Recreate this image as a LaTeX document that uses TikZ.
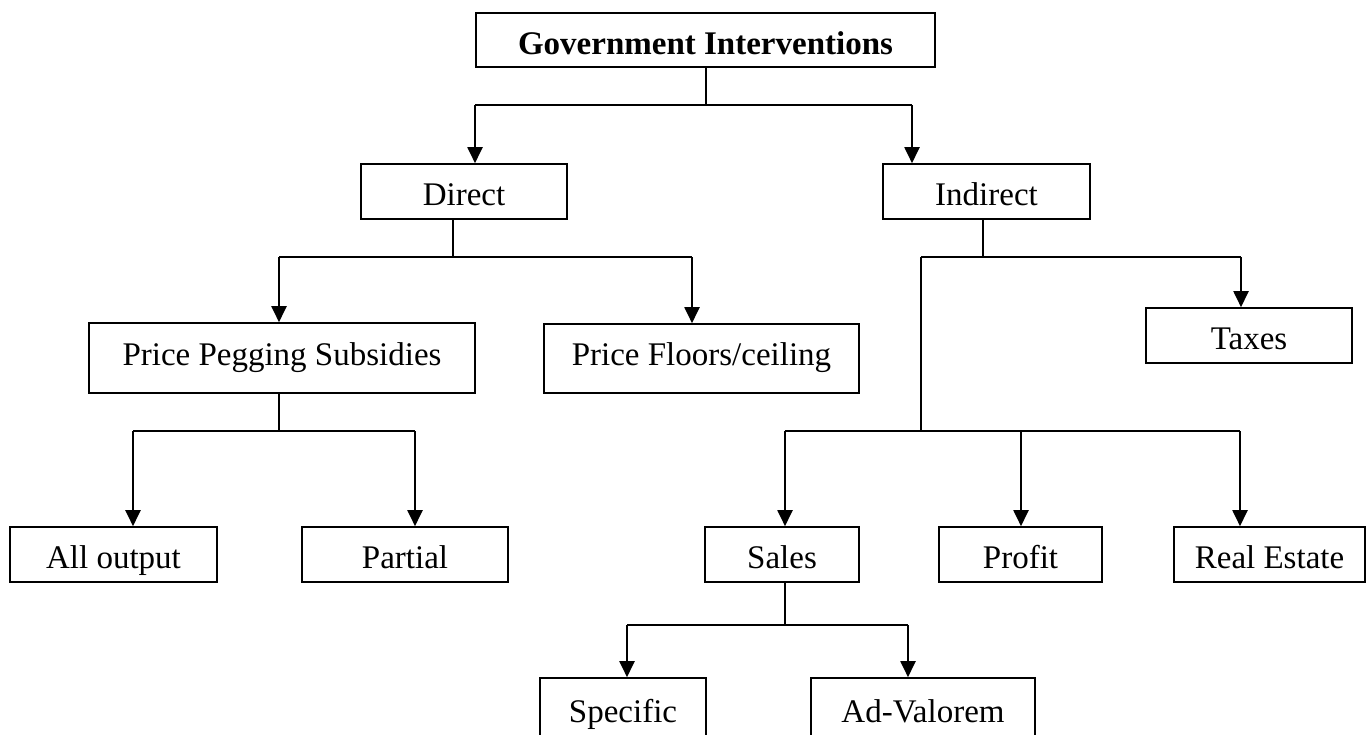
\documentclass[tikz,border=0pt]{standalone}
\usepackage{fontspec}
\setmainfont{Liberation Serif}
\usetikzlibrary{arrows.meta}

\begin{document}
\begin{tikzpicture}[
  x=0.5pt, y=-0.5pt,
  box/.style={draw, line width=0.8pt, inner sep=0pt, minimum height=27.5pt,
    font=\fontsize{16.5}{20}\selectfont, text height=16.5pt, text depth=2.1pt},
  tallbox/.style={box, text height=11.5pt, text depth=4.5pt},
  link/.style={line width=0.7pt},
  arr/.style={line width=1pt, -{Triangle[width=7.5pt,length=8pt]}}
]
\fill[white] (0,0) rectangle (1369,734);
\useasboundingbox (0,0) rectangle (1369,734);

% boxes
\node[box, minimum width=229.5pt, minimum height=27pt, font=\fontsize{16.5}{20}\selectfont\bfseries]
  (gov) at (705.5,40) {Government Interventions};
\node[box, minimum width=103pt]   (direct)   at (464,191.5)  {Direct};
\node[box, minimum width=103.5pt] (indirect) at (986.5,191.5) {Indirect};
\node[tallbox, minimum width=193pt, minimum height=35pt]   (pps) at (282,358)   {Price Pegging Subsidies};
\node[tallbox, minimum width=157.5pt, minimum height=34.5pt] (pfc) at (701.5,358.5) {Price Floors/ceiling};
\node[box, minimum width=103pt]   (taxes)    at (1249,335.5) {Taxes};
\node[box, minimum width=103.5pt] (allout)   at (113.5,554.5) {All output};
\node[box, minimum width=103pt]   (partial)  at (405,554.5)   {Partial};
\node[box, minimum width=77pt]    (sales)    at (782,554.5)   {Sales};
\node[box, minimum width=81.5pt]  (profit)   at (1020.5,554.5) {Profit};
\node[box, minimum width=95.5pt]  (realestate) at (1269.5,554.5) {Real Estate};
\node[box, minimum width=83pt, minimum height=30pt]  (specific)  at (623,708) {Specific};
\node[box, minimum width=112pt, minimum height=30pt] (advalorem) at (923,708) {Ad-Valorem};

% junction points and branch columns
\coordinate (j0) at (706,105);
\coordinate (xd) at (475,0);
\coordinate (xi) at (912,0);

\coordinate (j1) at (453,257);
\coordinate (xp) at (279,0);
\coordinate (xf) at (692,0);

\coordinate (j2) at (983,257);
\coordinate (xv) at (921,0);
\coordinate (xt) at (1241,0);
\coordinate (j3) at (921,431);
\coordinate (xs) at (785,0);
\coordinate (xq) at (1021,0);
\coordinate (xr) at (1240,0);

\coordinate (j4) at (279,431);
\coordinate (xa) at (133,0);
\coordinate (xb) at (415,0);

\coordinate (j5) at (785,625);
\coordinate (xc) at (627,0);
\coordinate (xe) at (908,0);

% level 1
\draw[link] (gov.south -| j0) -- (j0);
\draw[link] (j0 -| xd) -- (j0 -| xi);
\draw[arr] (j0 -| xd) -- (direct.north -| xd);
\draw[arr] (j0 -| xi) -- (indirect.north -| xi);

% direct branch
\draw[link] (direct.south -| j1) -- (j1);
\draw[link] (j1 -| xp) -- (j1 -| xf);
\draw[arr] (j1 -| xp) -- (pps.north -| xp);
\draw[arr] (j1 -| xf) -- (pfc.north -| xf);

% indirect branch
\draw[link] (indirect.south -| j2) -- (j2);
\draw[link] (j2 -| xv) -- (j2 -| xt);
\draw[arr] (j2 -| xt) -- (taxes.north -| xt);
\draw[link] (j2 -| xv) -- (j3);
\draw[link] (j3 -| xs) -- (j3 -| xr);
\draw[arr] (j3 -| xs) -- (sales.north -| xs);
\draw[arr] (j3 -| xq) -- (profit.north -| xq);
\draw[arr] (j3 -| xr) -- (realestate.north -| xr);

% subsidies branch
\draw[link] (pps.south -| j4) -- (j4);
\draw[link] (j4 -| xa) -- (j4 -| xb);
\draw[arr] (j4 -| xa) -- (allout.north -| xa);
\draw[arr] (j4 -| xb) -- (partial.north -| xb);

% sales branch
\draw[link] (sales.south -| j5) -- (j5);
\draw[link] (j5 -| xc) -- (j5 -| xe);
\draw[arr] (j5 -| xc) -- (specific.north -| xc);
\draw[arr] (j5 -| xe) -- (advalorem.north -| xe);
\end{tikzpicture}
\end{document}
